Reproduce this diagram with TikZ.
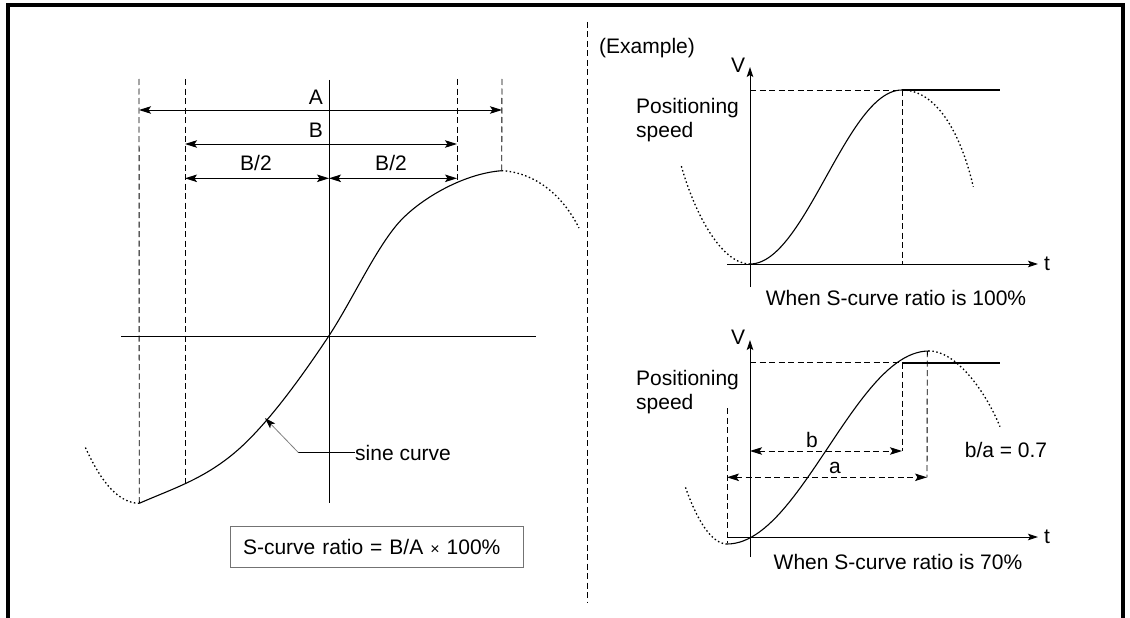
\documentclass[tikz,border=0pt]{standalone}
\usepackage{fontspec}
\setmainfont{Liberation Sans}
\usetikzlibrary{arrows.meta}
\begin{document}
\begin{tikzpicture}[x=1pt,y=-1pt,
  lbl/.style={font=\fontsize{21}{24}\selectfont, inner sep=0pt},
  dsh/.style={dash pattern=on 6pt off 3.5pt, line width=0.9pt},
  dot/.style={dash pattern=on 1.5pt off 2.5pt, line width=1.3pt},
  crv/.style={line width=1.1pt},
  thn/.style={line width=0.9pt},
  tipS/.tip={Stealth[length=12pt,width=7.5pt,inset=2.5pt]},
  dim/.style={thn, tipS-tipS},
  axis/.style={thn, -{Stealth[length=10pt,width=6.5pt,inset=2pt]}},
  flat/.style={line width=2pt},
  rbox/.style={draw=black!55, line width=1pt, font=\fontsize{21}{24}\selectfont,
    minimum width=293pt, minimum height=41pt, text width=267pt, inner xsep=13pt, align=left},
]
\useasboundingbox (0,0) rectangle (1130,618);
% frame
\coordinate (f1) at (8,618); \coordinate (f2) at (8,5);
\coordinate (f3) at (1123,5); \coordinate (f4) at (1123,618);
\draw[line width=4pt] (f1) -- (f2) -- (f3) -- (f4);
% divider
\coordinate (d1) at (587,22); \coordinate (d2) at (587,603);
\draw[dsh] (d1) -- (d2);

% ===== left diagram =====
\coordinate (v1t) at (139,79); \coordinate (v1b) at (139.3,503.3);
\coordinate (v2t) at (185,79); \coordinate (v2b) at (185,482.7);
\coordinate (v3t) at (457,79); \coordinate (v3b) at (457,182.7);
\coordinate (v4t) at (502,79); \coordinate (v4b) at (501.7,170.7);
\draw[dsh] (v1t) -- (v1b);
\draw[dsh] (v2t) -- (v2b);
\draw[dsh] (v3t) -- (v3b);
\draw[dsh] (v4t) -- (v4b);
\coordinate (ct) at (329,80); \coordinate (cb) at (329,503);
\coordinate (hl) at (121,336); \coordinate (hr) at (536,336);
\draw[thn] (ct) -- (cb);
\draw[thn] (hl) -- (hr);
\coordinate (A1) at (139,110); \coordinate (A2) at (502,110);
\coordinate (B1) at (185,144); \coordinate (B2) at (457,144);
\coordinate (C1) at (185,178.3); \coordinate (C2) at (329,178.3); \coordinate (C3) at (457,178.3);
\draw[dim] (A1) -- (A2);
\draw[dim] (B1) -- (B2);
\draw[dim] (C1) -- (C2);
\draw[dim] (C2) -- (C3);
\node[lbl] (lA) at (316,97) {A};
\node[lbl] (lB) at (316,130) {B};
\node[lbl] (lB2a) at (256,163) {B/2};
\node[lbl] (lB2b) at (391,163) {B/2};
\coordinate (s1) at (243.3,445); \coordinate (s2) at (328.5,336.5); \coordinate (s3) at (396.7,225);
\draw[crv] (v1b) .. controls (174,488) and (208.3,478) .. (s1)
  .. controls (271.3,418.4) and (300.5,378.5) .. (s2)
  .. controls (351.5,301.5) and (373.7,252.6) .. (s3)
  .. controls (416.7,201) and (461.7,173.7) .. (v4b);
\coordinate (dl) at (85,446.7); \coordinate (dr) at (579,228);
\draw[dot] (v1b) .. controls (115,503) and (98,475) .. (dl);
\draw[dot] (v4b) .. controls (530,172) and (560,190) .. (dr);
% sine curve label
\node[lbl, anchor=west] (sc) at (355,452.5) {sine curve};
\coordinate (k) at (298.3,452.5); \coordinate (tip) at (265,418);
\draw[thn] (sc.west) -- (k);
\draw[black!50, line width=0.8pt, -{Stealth[length=11pt,width=7pt,inset=2.5pt,black]}] (k) -- (tip);
% ratio box
\node[rbox] (rb) at (376.5,546.5) {S-curve ratio = B/A {\fontsize{16}{20}\selectfont ×} 100\%};

% ===== right: example =====
\node[lbl] (ex) at (647,48) {(Example)};
% top chart
\coordinate (ty0) at (750,287); \coordinate (ty1) at (750,67);
\coordinate (tx0) at (727,264); \coordinate (tx1) at (1038,264);
\draw[axis] (ty0) -- (ty1);
\draw[axis] (tx0) -- (tx1);
\node[lbl] (tV) at (738,65) {V};
\node[lbl] (tt) at (1047,264) {t};
\coordinate (tp0) at (750,90); \coordinate (tp1) at (902,90); \coordinate (tp2) at (1000,90);
\coordinate (tp3) at (902,264);
\draw[dsh] (tp0) -- (tp1);
\draw[dsh] (tp1) -- (tp3);
\draw[flat] (tp1) -- (tp2);
\draw[crv] plot[domain=0:180, samples=50, variable=\t] ({750+0.84444*\t},{177+87*cos(\t)});
\coordinate (tdl) at (681,165); \coordinate (tdr) at (973.3,186.7);
\coordinate (tmin) at (750,264);
\draw[dot] (tmin) .. controls (722,264) and (695,215) .. (tdl);
\draw[dot] (tp1) .. controls (935,90) and (960,130) .. (tdr);
\node[lbl, anchor=west, align=left] (tps) at (636,120) {Positioning\\speed};
\node[lbl] (tw) at (896,298) {When S-curve ratio is 100\%};

% bottom chart
\coordinate (by0) at (750,557); \coordinate (by1) at (750,340);
\coordinate (bx0) at (727,537); \coordinate (bx1) at (1038,537);
\draw[axis] (by0) -- (by1);
\draw[axis] (bx0) -- (bx1);
\node[lbl] (bV) at (738,337) {V};
\node[lbl] (bt) at (1047,537) {t};
\coordinate (bp0) at (750,362.7); \coordinate (bp1) at (902,362.7); \coordinate (bp2) at (1000,362.7);
\draw[dsh] (bp0) -- (bp1);
\draw[flat] (bp1) -- (bp2);
\coordinate (bb0) at (750,451); \coordinate (bb1) at (902,451);
\coordinate (ba0) at (727,477.3); \coordinate (ba1) at (927,477.3);
\coordinate (bpk) at (928.3,351); \coordinate (bq) at (927.3,351);
\coordinate (bl0) at (727,408); \coordinate (bl1) at (727,543);
\draw[dsh] (bp1) -- (bb1);
\draw[dsh] (bq) -- (ba1);
\draw[dsh] (bl0) -- (bl1);
\draw[dsh, tipS-tipS] (bb0) -- (bb1);
\draw[dsh, tipS-tipS] (ba0) -- (ba1);
\node[lbl] (lb) at (812,440) {b};
\node[lbl] (la) at (835,468) {a};
\node[lbl] (lba) at (1006,450) {b/a = 0.7};
\draw[crv] plot[domain=0:180, samples=50, variable=\t] ({727+1.1222*\t},{447.5+96.5*cos(\t)});
\coordinate (bmin) at (727,544);
\coordinate (bdl) at (685,486); \coordinate (bdr) at (1000,426.7);
\draw[dot] (bmin) .. controls (710,544) and (695,515) .. (bdl);
\draw[dot] (bpk) .. controls (955,350) and (985,390) .. (bdr);
\node[lbl, anchor=west, align=left] (bps) at (636,392) {Positioning\\speed};
\node[lbl] (bw) at (898,562) {When S-curve ratio is 70\%};
\end{tikzpicture}
\end{document}
